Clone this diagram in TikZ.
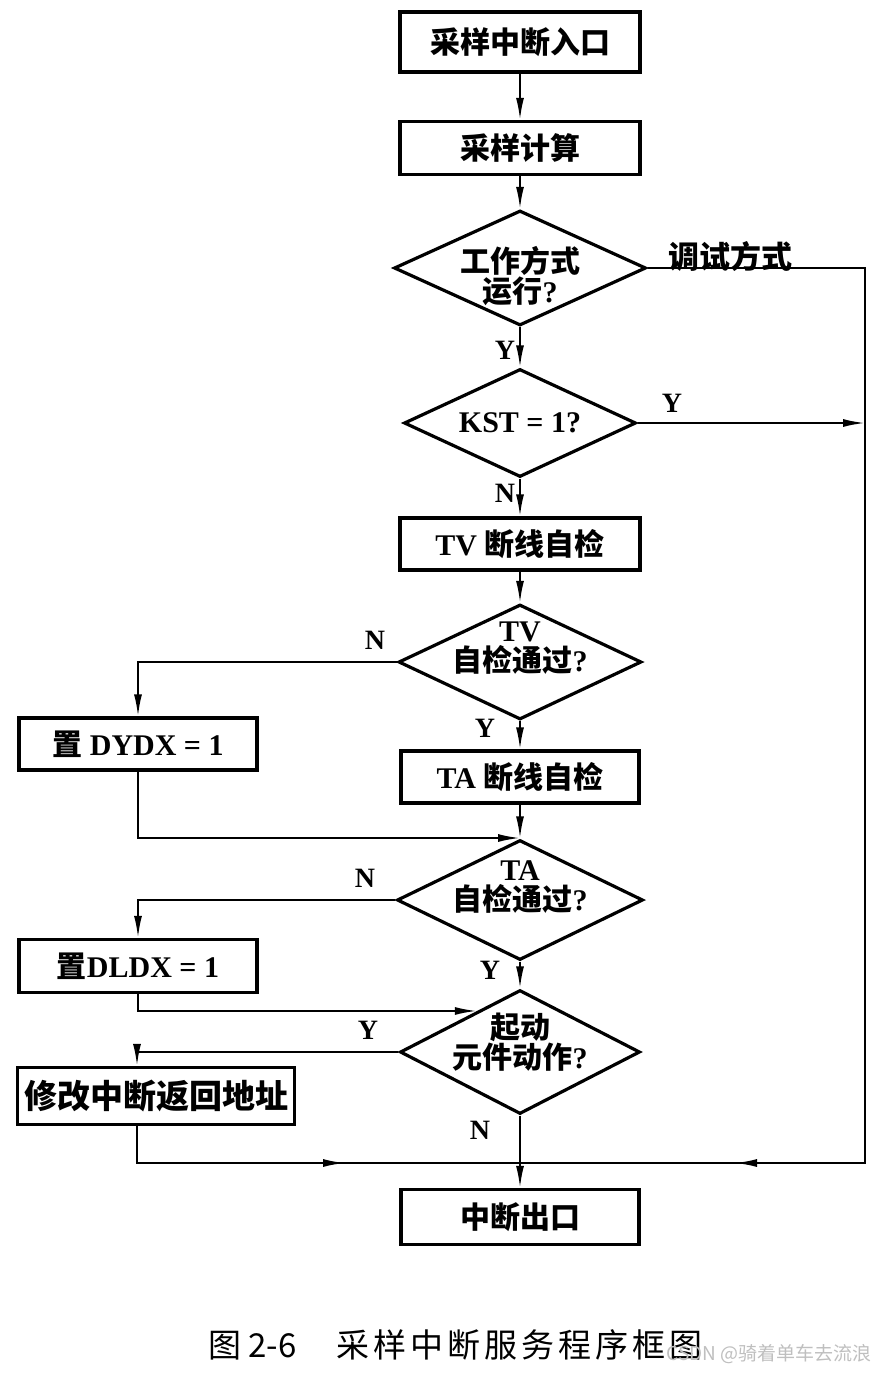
\documentclass[tikz,border=0pt]{standalone}
\usepackage{fontspec}
\setmainfont{Liberation Serif}
\newfontfamily\cjk{Noto Sans CJK SC}
\usetikzlibrary{shapes.geometric,arrows.meta,calc}
\newcommand\zh[1]{{\cjk\bfseries #1}}
\begin{document}
\begin{tikzpicture}[x=1pt,y=-1pt,
  box/.style={draw, line width=3.2pt, inner sep=0pt, font=\fontsize{30}{34}\selectfont\bfseries},
  dia/.style={draw, diamond, line width=3.2pt, inner sep=0pt},
  dtxt/.style={align=center, inner sep=0pt, font=\fontsize{30}{30}\selectfont\bfseries},
  line/.style={line width=2pt},
  flow/.style={line width=2pt, -{Latex[length=22pt,width=8pt]}},
  lbl/.style={inner sep=0pt, font=\fontsize{28}{28}\selectfont\bfseries}]
\useasboundingbox[fill=white] (0,0) rectangle (888,1373);

% main column
\node[box, minimum width=240, minimum height=60] (b1) at (520,42) {\zh{采样中断入口}};
\node[box, minimum width=240, minimum height=53] (b2) at (520,148) {\zh{采样计算}};
\node[dia, minimum width=252, minimum height=115] (d1) at (520,268) {};
\node[dtxt] (d1t) at (520,276) {\zh{工作方式}\\\zh{运行}?};
\node[dia, minimum width=232, minimum height=108] (d2) at (520,423) {};
\node[dtxt] (d2t) at (520,423) {KST = 1?};
\node[box, minimum width=240, minimum height=52] (b3) at (520,544) {TV \zh{断线自检}};
\node[dia, minimum width=243, minimum height=115] (d3) at (520,662) {};
\node[dtxt] (d3t) at (520,648) {TV\\\zh{自检通过}?};
\node[box, minimum width=238, minimum height=52] (b5) at (520,777) {TA \zh{断线自检}};
\node[dia, minimum width=246, minimum height=120] (d4) at (520,900) {};
\node[dtxt] (d4t) at (520,887) {TA\\\zh{自检通过}?};
\node[dia, minimum width=240, minimum height=124] (d5) at (520,1052) {};
\node[dtxt] (d5t) at (520,1042) {\zh{起动}\\\zh{元件动作}?};
\node[box, minimum width=238, minimum height=55] (b8) at (520,1217) {\zh{中断出口}};

% left column
\node[box, minimum width=238, minimum height=52] (b4) at (138,744) {\zh{置} DYDX = 1};
\node[box, minimum width=238, minimum height=53] (b6) at (138,966) {\zh{置}DLDX = 1};
\node[box, minimum width=277, minimum height=57, font=\fontsize{33}{34}\selectfont\bfseries] (b7) at (156,1096) {\zh{修改中断返回地址}};

% coordinates
\coordinate (cl) at (137,0);
\coordinate (r1) at (865,268);
\coordinate (r2) at (865,1163);
\coordinate (j) at (520,1163);
\coordinate (ma) at (735,1163);
\coordinate (mb) at (345,1163);
\coordinate (j1) at (520,838);
\coordinate (k) at ($(d5.north)!0.355!(d5.west)$);

% main flow
\draw[flow] (b1) -- (b2);
\draw[flow] (b2) -- (d1);
\draw[flow] (d1) -- (d2);
\draw[flow] (d2) -- (b3);
\draw[flow] (b3) -- (d3);
\draw[flow] (d3) -- (b5);
\draw[flow] (b5) -- (d4);
\draw[flow] (d4) -- (d5);
\draw[flow] (d5) -- (b8);

% right loop
\draw[line] (d1.east) -- (r1) -- (r2) -- (j);
\draw[flow] (r2) -- (ma);
\draw[flow] (d2.east) -- (d2.east -| r1);

% left branches
\draw[flow] (d3.west) -| (b4.north);
\draw[flow] (b4.south) |- (j1);
\draw[flow] (d4.west) -| (b6.north);
\draw[flow] (b6.south) |- (k);
\draw[flow] (d5.west) -- (d5.west -| cl) -- (cl |- b7.north);
\draw[line] (cl |- b7.south) |- (j);
\draw[flow] (cl |- j) -- (mb);

% labels
\node[inner sep=0pt, font=\fontsize{31}{31}\selectfont] (l0) at (730,257) {\zh{调试方式}};
\node[lbl] (l1) at (505,350) {Y};
\node[lbl] (l2) at (672,403) {Y};
\node[lbl] (l3) at (505,493) {N};
\node[lbl] (l4) at (375,640) {N};
\node[lbl] (l5) at (485,728) {Y};
\node[lbl] (l6) at (365,878) {N};
\node[lbl] (l7) at (490,970) {Y};
\node[lbl] (l8) at (368,1030) {Y};
\node[lbl] (l9) at (480,1130) {N};

% caption
\node[inner sep=0pt, anchor=west, font=\fontsize{33}{33}\selectfont] (cap) at (208,1345) {\cjk 图 2-6\hspace{40pt}\addfontfeature{LetterSpace=12}采样中断服务程序框图};
\node[inner sep=0pt, anchor=east, text=black!25, font=\fontsize{19}{19}\selectfont] (wm) at (872,1354) {\cjk CSDN @骑着单车去流浪};
\end{tikzpicture}
\end{document}
